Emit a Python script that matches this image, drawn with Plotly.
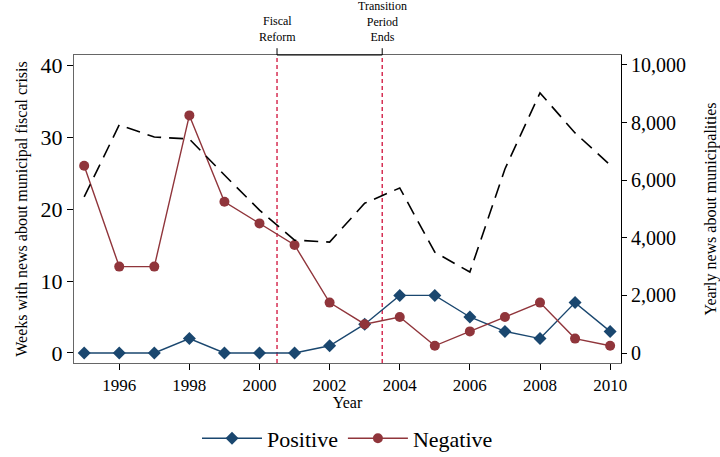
import plotly.graph_objects as go

years = list(range(1995, 2011))
positive = [0, 0, 0, 2, 0, 0, 0, 1, 4, 8, 8, 5, 3, 2, 7, 3]
negative = [26, 12, 12, 33, 21, 18, 15, 7, 4, 5, 1, 3, 5, 7, 2, 1]
yearly_news = [5420, 7920, 7500, 7430, 6180, 4960, 3920, 3850, 5200, 5730, 3500, 2810, 6390, 9030, 7640, 6530]
event_x = [2000.5, 2003.5]
event_labels = ["Fiscal<br>Reform", "Transition<br>Period<br>Ends"]
x_ticks = [1996, 1998, 2000, 2002, 2004, 2006, 2008, 2010]
left_ticks = [0, 10, 20, 30, 40]
right_ticks = [0, 2000, 4000, 6000, 8000, 10000]

FONT = "Liberation Serif"
NAVY = "#1a476f"
MAROON = "#90353b"
RED = "#d0103a"

def f(size):
    return dict(family=FONT, size=size, color="black")

fig = go.Figure()
fig.add_trace(go.Scatter(
    x=years, y=yearly_news, yaxis="y2", mode="lines",
    line=dict(color="black", width=1.6, dash="14px,8px"),
    showlegend=False, hoverinfo="skip"))
fig.add_trace(go.Scatter(
    x=years, y=positive, mode="lines+markers", name="Positive",
    line=dict(color=NAVY, width=1.4),
    marker=dict(symbol="diamond", size=10, color=NAVY)))
fig.add_trace(go.Scatter(
    x=years, y=negative, mode="lines+markers", name="Negative",
    line=dict(color=MAROON, width=1.4),
    marker=dict(symbol="circle", size=10, color=MAROON)))

for ex in event_x:
    fig.add_shape(type="line", xref="x", yref="paper", x0=ex, x1=ex, y0=0, y1=1,
                  line=dict(color=RED, width=1.3, dash="4px,3px"), layer="below")
    fig.add_shape(type="line", xref="x", yref="paper", x0=ex, x1=ex, y0=1, y1=1.022,
                  line=dict(color="black", width=1))
fig.add_shape(type="line", xref="x", yref="paper", x0=event_x[0], x1=event_x[1], y0=1, y1=1,
              line=dict(color="black", width=1.2))
for ex, lab in zip(event_x, event_labels):
    fig.add_annotation(x=ex, xref="x", y=1.03, yref="paper", text=lab, showarrow=False,
                       yanchor="bottom", font=f(12))

fig.update_layout(
    width=720, height=457,
    margin=dict(l=74, r=99, t=55, b=94, autoexpand=False),
    paper_bgcolor="white", plot_bgcolor="white",
    font=f(14),
    xaxis=dict(range=[1994.71, 2010.31], tickvals=x_ticks, showgrid=False, zeroline=False,
               ticks="outside", ticklen=6, tickcolor="black", tickfont=f(17), automargin=False,
               showline=True, linecolor="#666", mirror=True, linewidth=1.2,
               title=dict(text="Year", font=f(16), standoff=2)),
    yaxis=dict(range=[-1.39, 41.39], tickvals=left_ticks, showgrid=False, zeroline=False,
               ticks="outside", ticklen=6, tickcolor="black", tickfont=f(22), automargin=False,
               showline=True, linecolor="#666", mirror=True, linewidth=1.2,
               title=dict(text="Weeks with news about municipal fiscal crisis", font=f(16), standoff=8)),
    yaxis2=dict(range=[-347, 10347], tickvals=right_ticks, tickformat=",", overlaying="y", side="right",
                showgrid=False, zeroline=False, ticks="outside", ticklen=5, tickcolor="black",
                tickfont=f(20), automargin=False, showline=True, linecolor="black", linewidth=1.2,
                title=dict(text="Yearly news about municipalities", font=f(16), standoff=20)),
    legend=dict(orientation="h", x=0.5, xanchor="center", y=-0.245, yanchor="middle",
                font=f(22), itemwidth=60, tracegroupgap=30),
)

fig.write_html("out.html", config={"displayModeBar": False},
               post_script="document.body.style.margin='0';document.body.style.padding='0';")
